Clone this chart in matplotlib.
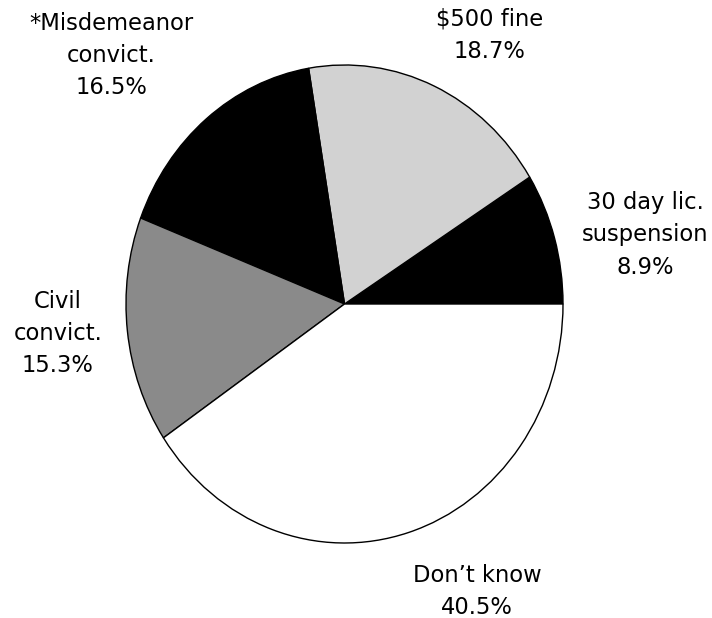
import matplotlib
matplotlib.use("Agg")
import matplotlib.pyplot as plt

labels = ["30 day lic.\nsuspension", "$500 fine", "*Misdemeanor\nconvict.", "Civil\nconvict.", "Don\u2019t know"]
values = [8.9, 18.7, 16.5, 15.3, 40.5]
colors = ["#000000", "#d2d2d2", "#000000", "#8a8a8a", "#ffffff"]

W, H = 712, 618
fig = plt.figure(figsize=(W / 100, H / 100), dpi=100)
fig.patch.set_facecolor("white")

# pie bounding box in pixels (left, right, top, bottom)
pl, pr, pt, pb = 126, 563, 65, 543
m = 1.05
cx, cy = (pl + pr) / 2, (pt + pb) / 2
rx, ry = (pr - pl) / 2 * m, (pb - pt) / 2 * m
ax = fig.add_axes([(cx - rx) / W, 1 - (cy + ry) / H, 2 * rx / W, 2 * ry / H])
wedges, _ = ax.pie(values, colors=colors, startangle=0, counterclock=True,
                   wedgeprops=dict(edgecolor="black", linewidth=1.0),
                   normalize=True)
ax.set_aspect("auto")
ax.set_xlim(-m, m)
ax.set_ylim(-m, m)
ax.axis("off")

# label positions (pixel centers)
pos = [(645, 235), (490, 35), (111, 56), (58, 334), (477, 591)]
fs = 16.3
for lab, v, (x, y) in zip(labels, values, pos):
    fig.text(x / W, 1 - y / H, f"{lab}\n{v:.1f}%", ha="center", va="center",
             fontsize=fs, family="DejaVu Sans", linespacing=1.5, color="black")

fig.savefig("out.png", dpi=100, facecolor="white")
